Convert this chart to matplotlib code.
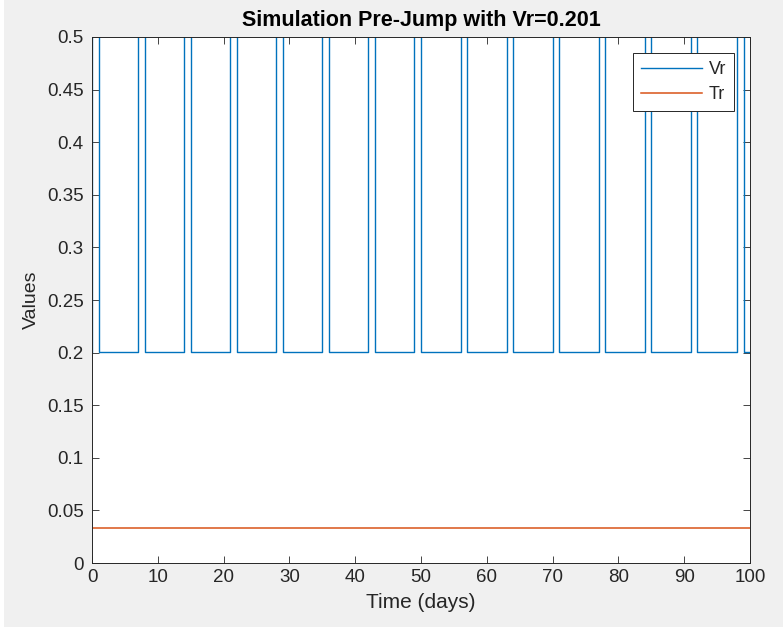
import numpy as np
import matplotlib as mpl
import matplotlib.pyplot as plt
from matplotlib.patches import Rectangle

# Data
# Vr pulses: high (clipped above 0.5) for one day every 7 days, otherwise 0.201
pulse_starts = [0, 7, 14, 21, 28, 35, 42, 49, 56, 63, 70, 77, 84, 91, 98]
pulse_len = 1.0
vr_low = 0.201
vr_high = 0.8          # above the visible range, value not readable
tr_value = 0.033
t_end = 100

# Build step series for Vr
vr_t = []
vr_y = []
for s in pulse_starts:
    vr_t += [s, s, s + pulse_len, s + pulse_len]
    vr_y += [vr_low, vr_high, vr_high, vr_low]
vr_t.append(t_end)
vr_y.append(vr_low)
vr_t = np.array(vr_t)
vr_y = np.array(vr_y)

tr_t = np.array([0, t_end])
tr_y = np.array([tr_value, tr_value])

x_ticks = list(range(0, 101, 10))
y_ticks = [0, 0.05, 0.1, 0.15, 0.2, 0.25, 0.3, 0.35, 0.4, 0.45, 0.5]
y_labels = ['0', '0.05', '0.1', '0.15', '0.2', '0.25', '0.3', '0.35', '0.4',
            '0.45', '0.5']

# MATLAB-like look
mpl.rcParams['font.family'] = ['Liberation Sans', 'DejaVu Sans']
axis_color = '#262626'

fig = plt.figure(figsize=(7.83, 6.27), dpi=100, facecolor='#F0F0F0')
ax = fig.add_axes([0.1175, 0.102, 0.8405, 0.839])

# White strip on the left edge of the screenshot
fig.patches.append(Rectangle((0, 0), 4 / 783, 1, transform=fig.transFigure,
                             facecolor='white', edgecolor='none', zorder=0))

ax.plot(vr_t, vr_y, color='#0072BD', linewidth=1.0, label='Vr')
ax.plot(tr_t, tr_y, color='#D95319', linewidth=1.1, label='Tr')

ax.set_xlim(0, 100)
ax.set_ylim(0, 0.5)
ax.set_xticks(x_ticks)
ax.set_yticks(y_ticks)
ax.set_yticklabels(y_labels)

ax.tick_params(axis='both', which='both', direction='in', top=True,
               right=True, length=5, width=0.6, color=axis_color,
               labelsize=13.5, labelcolor=axis_color, pad=6)
ax.tick_params(axis='x', pad=4)
for spine in ax.spines.values():
    spine.set_color(axis_color)
    spine.set_linewidth(0.7)

ax.set_title('Simulation Pre-Jump with Vr=0.201', fontsize=15.5,
             fontweight='bold', color='black', pad=8)
ax.set_xlabel('Time (days)', fontsize=15, color=axis_color, labelpad=5)
ax.set_ylabel('Values', fontsize=14, color=axis_color, labelpad=5)

leg = ax.legend(loc='upper right', fontsize=13, handlelength=3.4,
                handletextpad=0.35, borderpad=0.45, labelspacing=0.45,
                fancybox=False, framealpha=1, bbox_to_anchor=(0.976, 0.970),
                borderaxespad=0)
leg.get_frame().set_edgecolor(axis_color)
leg.get_frame().set_linewidth(0.7)
for txt in leg.get_texts():
    txt.set_color(axis_color)

fig.savefig('out.png', dpi=100, facecolor=fig.get_facecolor())
